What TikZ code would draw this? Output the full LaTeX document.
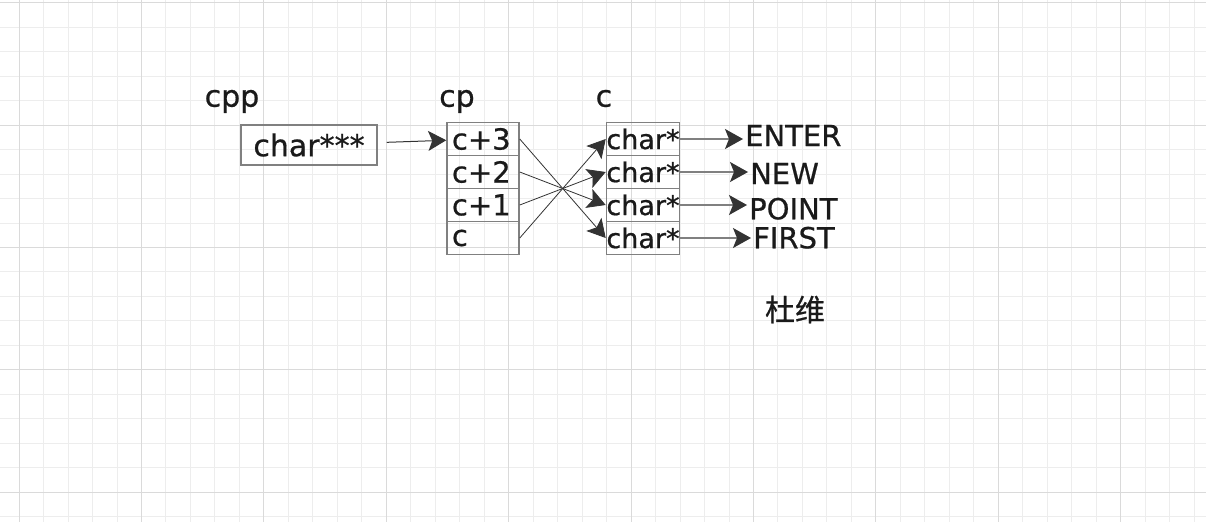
\documentclass[tikz,border=0pt]{standalone}
\usepackage{fontspec}
\setmainfont{DejaVu Sans}[FakeBold=0.7]
\newfontfamily\cjk{Noto Sans CJK SC}[FakeBold=0.7]
\usetikzlibrary{arrows.meta}
\definecolor{gridminor}{HTML}{EDEDED}
\definecolor{gridmajor}{HTML}{DADADA}
\definecolor{boxgrey}{HTML}{808080}
\definecolor{ink}{HTML}{1A1A1A}
\definecolor{wire}{HTML}{333333}
\tikzset{
  cell/.style={draw=boxgrey,line width=1.5pt,minimum width=72pt,minimum height=33pt,inner sep=0pt},
  lbl/.style={anchor=base west,inner sep=0pt,text=ink,font=\fontsize{30}{30}\selectfont},
  >={Stealth[length=18pt,width=20pt,inset=4pt,color=wire]}
}
\begin{document}
\begin{tikzpicture}[x=1pt,y=-1pt,node distance=33pt,text=ink]
\useasboundingbox[fill=white] (0,0) rectangle (1206,522);
\foreach \i in {0,...,48} \draw[gridminor,line width=1pt] ({19.1+24.48*\i},0) -- ({19.1+24.48*\i},522);
\foreach \j in {0,...,21} \draw[gridminor,line width=1pt] (0,{2.7+24.48*\j}) -- (1206,{2.7+24.48*\j});
\foreach \i in {0,...,9} \draw[gridmajor,line width=1pt] ({19.1+122.4*\i},0) -- ({19.1+122.4*\i},522);
\foreach \j in {0,...,4} \draw[gridmajor,line width=1pt] (0,{2.7+122.4*\j}) -- (1206,{2.7+122.4*\j});

\node[lbl] (lcpp) at (204.5,106.7) {cpp};
\node[lbl] (lcp) at (439,106.7) {cp};
\node[lbl] (lc) at (595.5,106.7) {c};

\node[cell,minimum width=136pt,minimum height=40pt,font=\fontsize{30}{30}\selectfont] (cpp) at (309,145) {char***};

\node[cell,text width=62pt,inner xsep=5pt,align=left,font=\fontsize{29}{29}\selectfont] (cp3) at (483,139) {c+3};
\node[cell,text width=62pt,inner xsep=5pt,align=left,font=\fontsize{29}{29}\selectfont,below of=cp3] (cp2) {c+2};
\node[cell,text width=62pt,inner xsep=5pt,align=left,font=\fontsize{29}{29}\selectfont,below of=cp2] (cp1) {c+1};
\node[cell,text width=62pt,inner xsep=5pt,align=left,font=\fontsize{29}{29}\selectfont,below of=cp1] (cp0) {c};

\node[cell,font=\fontsize{27}{27}\selectfont] (c0) at (643,139) {char*};
\node[cell,font=\fontsize{27}{27}\selectfont,below of=c0] (c1) {char*};
\node[cell,font=\fontsize{27}{27}\selectfont,below of=c1] (c2) {char*};
\node[cell,font=\fontsize{27}{27}\selectfont,below of=c2] (c3) {char*};

\node[lbl,font=\fontsize{29}{29}\selectfont] (enter) at (745,146) {ENTER};
\node[lbl,font=\fontsize{29}{29}\selectfont] (new) at (750,184) {NEW};
\node[lbl,font=\fontsize{29}{29}\selectfont] (point) at (749,219.3) {POINT};
\node[lbl,font=\fontsize{29}{29}\selectfont] (first) at (753,248.3) {FIRST};

\node[inner sep=0pt,font=\cjk\fontsize{30}{30}\selectfont] (name) at (795,309.5) {杜维};

\path[->,color=wire,line width=1pt] (cpp) edge[shorten <=9pt] (cp3);
\path[->,color=wire,line width=0.8pt] (cp3.east) edge (c3.west)
          (cp2.east) edge (c2.west)
          (cp1.east) edge (c1.west)
          (cp0.east) edge (c0.west);
\path[->,color=boxgrey,line width=1.5pt] (c0.east) edge[shorten >=2pt] (c0.east -| enter.west)
          (c1.east) edge[shorten >=2pt] (c1.east -| new.west)
          (c2.east) edge[shorten >=2pt] (c2.east -| point.west)
          (c3.east) edge[shorten >=2pt] (c3.east -| first.west);
\end{tikzpicture}
\end{document}
